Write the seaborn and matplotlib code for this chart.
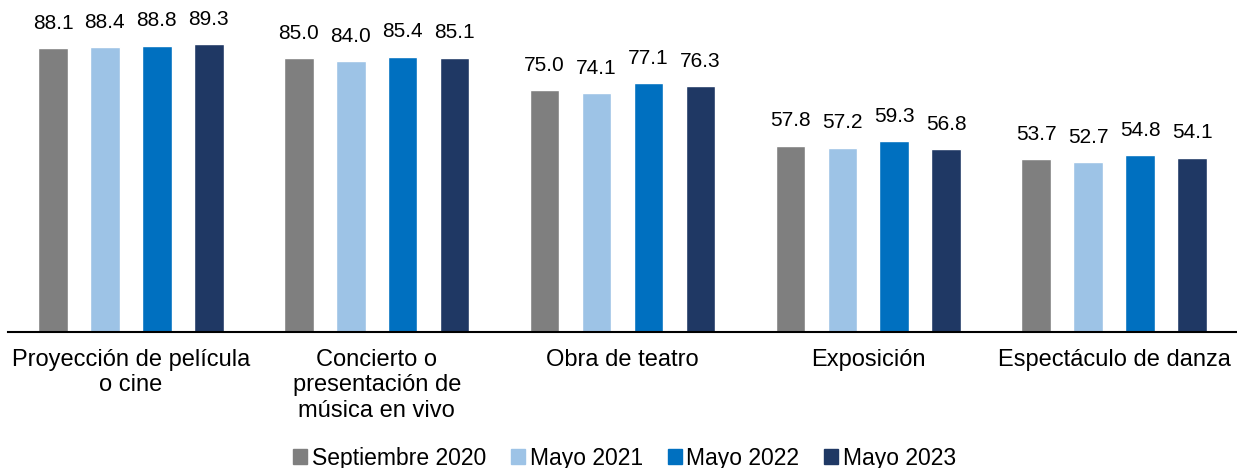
import pandas as pd
import matplotlib.pyplot as plt
import seaborn as sns

# --- Data ---
categories = ['Proyección de película\no cine',
              'Concierto o\npresentación de\nmúsica en vivo',
              'Obra de teatro',
              'Exposición',
              'Espectáculo de danza']
periods = ['Septiembre 2020', 'Mayo 2021', 'Mayo 2022', 'Mayo 2023']
sep_2020 = [88.1, 85.0, 75.0, 57.8, 53.7]
may_2021 = [88.4, 84.0, 74.1, 57.2, 52.7]
may_2022 = [88.8, 85.4, 77.1, 59.3, 54.8]
may_2023 = [89.3, 85.1, 76.3, 56.8, 54.1]
colors = ['#7F7F7F', '#9DC3E6', '#0070C0', '#1F3864']

# long format for seaborn
rows = []
for period, vals in zip(periods, [sep_2020, may_2021, may_2022, may_2023]):
    for cat, v in zip(categories, vals):
        rows.append({'Actividad': cat, 'Periodo': period, 'Porcentaje': v})
df = pd.DataFrame(rows)

sns.set_style('white')
plt.rcParams['font.family'] = ['Liberation Sans', 'DejaVu Sans']
plt.rcParams['text.color'] = 'black'
plt.rcParams['xtick.color'] = 'black'

fig = plt.figure(figsize=(12.37, 4.68), dpi=100)
ax = fig.add_axes([8 / 1237, 136 / 468, 1 - 8 / 1237, 1 - 136 / 468])

sns.barplot(data=df, x='Actividad', y='Porcentaje', hue='Periodo',
            order=categories, hue_order=periods, palette=colors,
            saturation=1, width=0.845, gap=0.43, ax=ax, legend=False)

# value labels
for container in ax.containers:
    ax.bar_label(container, fmt='%.1f', padding=11, fontsize=15, color='black')

ax.set_xlim(-0.5, 4.5)
ax.set_ylim(0, 103)
ax.set_xlabel('')
ax.set_ylabel('')
ax.set_yticks([])
ax.tick_params(axis='x', length=0, pad=12, labelsize=17, labelcolor='black')
for lbl in ax.get_xticklabels():
    lbl.set_linespacing(1.22)
    lbl.set_verticalalignment('top')
for s in ['top', 'right', 'left']:
    ax.spines[s].set_visible(False)
ax.spines['bottom'].set_color('black')
ax.spines['bottom'].set_linewidth(1.5)

handles = [plt.Rectangle((0, 0), 1, 1, color=c) for c in colors]
fig.legend(handles, periods, loc='center', bbox_to_anchor=(0.505, 10 / 468),
           ncol=4, frameon=False, fontsize=16.5, handlelength=0.6,
           handleheight=0.6, handletextpad=0.2, columnspacing=1.1)

fig.savefig('out.png', dpi=100)
